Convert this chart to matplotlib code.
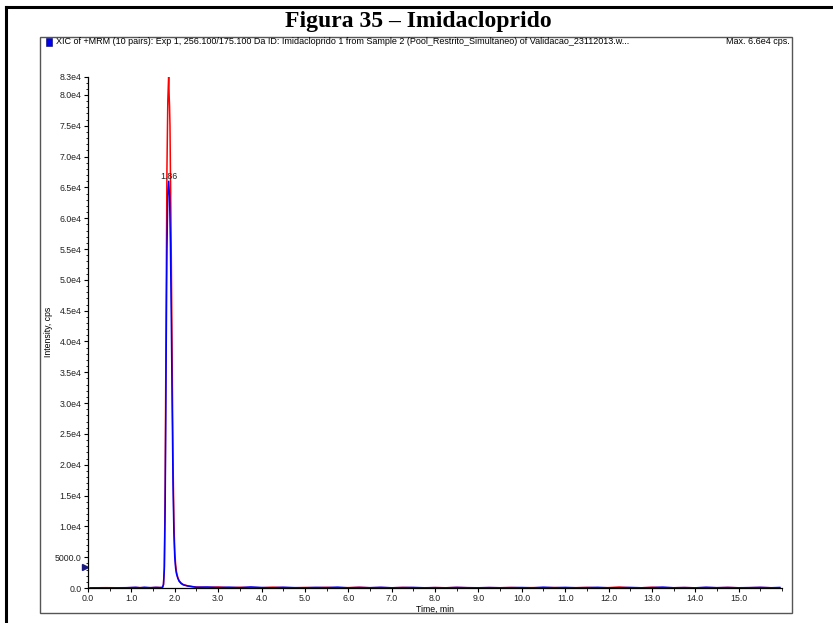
"""
Figura 35 - Imidacloprido: XIC chromatogram (+MRM) recreated with matplotlib.
Output: out.png
"""

import matplotlib
matplotlib.use("Agg")
import matplotlib.pyplot as plt
from matplotlib.lines import Line2D
from matplotlib.patches import Rectangle
from matplotlib.ticker import FixedLocator, MultipleLocator

plt.rcParams.update({
    "font.family": "Liberation Sans",
    "font.size": 6.3,
})

# ── data (time in min, intensity in cps) ────────────────────────────────────
red_time = [0.05, 0.40, 0.80, 1.10, 1.40, 1.60, 1.70, 1.72, 1.74, 1.76, 1.78,
            1.80, 1.82, 1.84, 1.86, 1.87, 1.88, 1.89, 1.90, 1.92, 1.94, 1.96,
            1.98, 2.00, 2.02, 2.04, 2.07, 2.10, 2.15, 2.20, 2.30, 2.40,
            2.50, 2.75, 3.00, 3.25, 3.50, 3.75, 4.00, 4.25, 4.50, 4.75,
            5.00, 5.25, 5.50, 5.75, 6.00, 6.25, 6.50, 6.75, 7.00, 7.25,
            7.50, 7.75, 8.00, 8.25, 8.50, 8.75, 9.00, 9.25, 9.50, 9.75,
            10.00, 10.25, 10.50, 10.75, 11.00, 11.25, 11.50, 11.75, 12.00,
            12.25, 12.50, 12.75, 13.00, 13.25, 13.50, 13.75, 14.00, 14.25,
            14.50, 14.75, 15.00, 15.25, 15.50, 15.75, 15.95]
red_int = [20, 50, 30, 70, 40, 90, 60, 100, 500, 3500, 17000,
           44000, 68000, 79000, 83300, 80000, 78200, 75000, 68000, 54000,
           37000, 21000, 11000, 6000, 3800, 2600, 1700, 1200, 800, 550,
           350, 240,
           150, 90, 160, 50, 110, 70, 40, 130, 60, 30,
           80, 50, 100, 30, 60, 120, 40, 70, 30, 90,
           50, 20, 70, 40, 90, 50, 30, 60, 40, 80,
           30, 60, 40, 70, 30, 50, 90, 30, 60,
           150, 40, 30, 120, 50, 40, 70, 30, 60,
           40, 90, 30, 50, 80, 40, 30]

blue_time = [0.05, 0.30, 0.60, 0.90, 1.10, 1.20, 1.30, 1.45, 1.55, 1.65, 1.70,
             1.72, 1.74, 1.76, 1.78, 1.80, 1.82, 1.84, 1.86, 1.88, 1.90,
             1.92, 1.94, 1.96, 1.98, 2.00, 2.02, 2.04, 2.07, 2.10, 2.15,
             2.20, 2.30, 2.40,
             2.50, 2.75, 3.00, 3.25, 3.50, 3.75, 4.00, 4.25, 4.50, 4.75,
             5.00, 5.25, 5.50, 5.75, 6.00, 6.25, 6.50, 6.75, 7.00, 7.25,
             7.50, 7.75, 8.00, 8.25, 8.50, 8.75, 9.00, 9.25, 9.50, 9.75,
             10.00, 10.25, 10.50, 10.75, 11.00, 11.25, 11.50, 11.75, 12.00,
             12.25, 12.50, 12.75, 13.00, 13.25, 13.50, 13.75, 14.00, 14.25,
             14.50, 14.75, 15.00, 15.25, 15.50, 15.75, 15.95]
blue_int = [20, 40, 30, 50, 110, 40, 120, 50, 100, 70, 90,
            150, 600, 3000, 14000, 36000, 55000, 64000, 66000, 63500, 56000,
            44000, 30000, 17000, 9000, 5000, 3200, 2300, 1600, 1100, 700,
            500, 320, 220,
            120, 160, 70, 130, 50, 170, 80, 40, 120, 60,
            40, 100, 60, 140, 30, 80, 50, 110, 40, 70,
            90, 40, 60, 30, 90, 50, 40, 70, 40, 60,
            80, 30, 130, 50, 100, 40, 60, 110, 30,
            50, 90, 40, 60, 140, 40, 70, 30, 120,
            50, 80, 40, 60, 100, 40, 90]

y_ticks = [0, 5000, 10000, 15000, 20000, 25000, 30000, 35000, 40000,
           45000, 50000, 55000, 60000, 65000, 70000, 75000, 80000, 83000]
y_labels = ["0.0", "5000.0", "1.0e4", "1.5e4", "2.0e4", "2.5e4", "3.0e4",
            "3.5e4", "4.0e4", "4.5e4", "5.0e4", "5.5e4", "6.0e4", "6.5e4",
            "7.0e4", "7.5e4", "8.0e4", "8.3e4"]
x_ticks = [0, 1, 2, 3, 4, 5, 6, 7, 8, 9, 10, 11, 12, 13, 14, 15]

peak_rt = 1.86
peak_height = 66000

header = ("XIC of +MRM (10 pairs): Exp 1, 256.100/175.100 Da ID: Imidacloprido 1 "
          "from Sample 2 (Pool_Restrito_Simultaneo) of Validacao_23112013.w...")

# ── figure ────────────────────────────────────────────────────────────────────
W, H = 833, 623
fig = plt.figure(figsize=(W / 100, H / 100), dpi=100)

def fx(px):
    return px / W

def fy(py):
    return 1 - py / H

# page frame (top and left thick rules)
fig.add_artist(Line2D([fx(6), fx(6)], [0, fy(7)], color="black", lw=2.2))
fig.add_artist(Line2D([fx(6), 1], [fy(7), fy(7)], color="black", lw=2.2))

fig.text(fx(418), fy(21), "Figura 35 – Imidacloprido", ha="center", va="center",
         family="Liberation Serif", weight="bold", fontsize=17)

# analyst panel box
fig.add_artist(Rectangle((fx(40), fy(613)), fx(792) - fx(40), fy(37) - fy(613),
                         transform=fig.transFigure, fill=False,
                         edgecolor="#555555", lw=1.0))
fig.add_artist(Rectangle((fx(46), fy(45.5)), fx(6), fy(38) - fy(45.5),
                         transform=fig.transFigure, facecolor="#0000ee",
                         edgecolor="#000066", lw=0.4))
fig.text(fx(56), fy(42), header, ha="left", va="center", fontsize=6.45)
fig.text(fx(790), fy(42), "Max. 6.6e4 cps.", ha="right", va="center", fontsize=6.45)

ax = fig.add_axes([fx(88), fy(588), fx(782) - fx(88), fy(76.5) - fy(588)])
ax.plot(red_time, red_int, color="#ff0000", lw=1.1)
ax.plot(blue_time, blue_int, color="#0000ff", lw=1.1)

ax.set_xlim(0, 16)
ax.set_ylim(0, 83000)
for s in ("top", "right"):
    ax.spines[s].set_visible(False)
for s in ("left", "bottom"):
    ax.spines[s].set_linewidth(0.9)

ax.yaxis.set_major_locator(FixedLocator(y_ticks))
ax.set_yticklabels(y_labels)
ax.yaxis.set_minor_locator(MultipleLocator(1000))
ax.xaxis.set_major_locator(FixedLocator(x_ticks))
ax.set_xticklabels([f"{v:.1f}" for v in x_ticks])
ax.xaxis.set_minor_locator(MultipleLocator(0.5))
ax.tick_params(which="major", length=3, width=0.8, labelsize=6.3, pad=1.5,
               colors="black", labelcolor="#222222")
ax.tick_params(which="minor", length=1.8, width=0.6)

ax.set_xlabel("Time, min", fontsize=6.3, labelpad=1)
ax.set_ylabel("Intensity, cps", fontsize=6.3)
ax.yaxis.set_label_coords(-0.05, 0.5)

ax.annotate(f"{peak_rt:.2f}", (peak_rt, peak_height), xytext=(0, 0.5),
            textcoords="offset points", ha="center", va="bottom", fontsize=6.3,
            color="#222222")

# threshold marker on the y axis
ax.plot([-0.08], [3400], marker=">", color="#1a1a80", ms=4, clip_on=False)

fig.savefig("out.png", dpi=100)
